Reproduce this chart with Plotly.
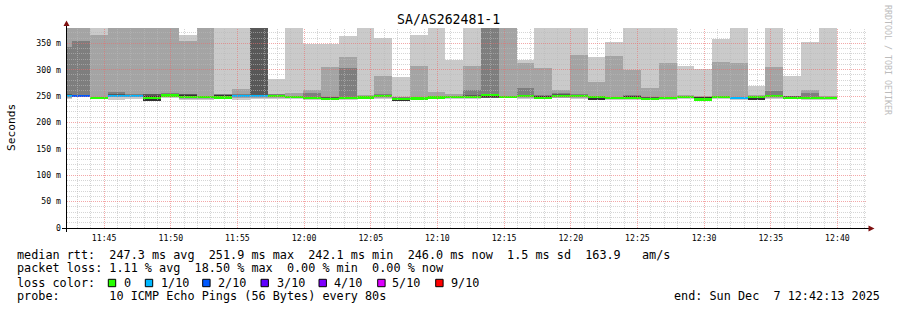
import math
import plotly.graph_objects as go
import pandas as pd

# ---------------- data (80 s steps, values in ms) ----------------
step_centers = pd.date_range("2025-12-07 11:41:56", periods=44, freq="80s")

median_ms = [250, 250, 246.5, 250, 250, 247, 251, 248, 248, 247.5, 250, 250,
             250, 248, 246, 245, 246.5, 247.5, 250, 244.5, 245.5, 247.5, 248,
             248, 252.5, 248, 250, 246.5, 250, 250, 248.5, 246, 246, 245, 246,
             248, 243.5, 248, 246, 248.5, 250, 247, 246.5, 246.5]
loss_tenths = [1, 2, 0, 1, 1, 0, 0, 0, 0, 0, 1, 1,
               0, 0, 0, 0, 0, 0, 0, 0, 0, 0, 0,
               0, 0, 0, 0, 0, 0, 0, 0, 0, 0, 0, 0,
               0, 0, 0, 1, 0, 0, 0, 0, 0]

ping1 = [244, 248.5, 245, 243, 244, 241, 246, 243, 243, 244, 243, 244,
         244, 244, 243, 242, 243, 244, 245, 240, 243, 244, 244,
         244, 246, 247, 245, 244, 246, 245, 242, 243, 243, 242, 243,
         244, 240, 244, 243, 243, 245, 244, 243, 243]
ping2 = [246, 249, 245.5, 249, 248, 241, 249, 245, 245, 246, 247, 247,
         247, 246, 244, 243, 244, 246, 247, 240.5, 244, 246, 246,
         246, 247, 247.5, 247, 245, 247, 247, 242.5, 244, 244, 243, 244,
         246, 240.5, 246, 244, 243, 247, 245, 244, 244]
ping3 = [248, 249.5, 246, 249.5, 249, 241, 250, 246, 246, 247, 249, 249,
         248, 247, 245, 244, 245, 247, 248, 241, 245, 247, 247,
         247, 247, 248, 248, 246, 248, 248, 243, 245, 245, 244, 245,
         247, 241, 247, 245, 243, 248, 246, 245, 245]
ping4 = [249, 250, 246, 250, 250, 241, 250.5, 247, 247, 247, 249.5, 249.5,
         249, 247.5, 245.5, 244.5, 246, 247, 249, 241, 245, 247, 247.5,
         247.5, 247, 248, 249, 246, 249, 249, 243, 245.5, 245.5, 244.5, 245.5,
         247.5, 241.5, 247.5, 245.5, 243, 249, 246.5, 245.5, 245.5]
ping5 = [249.5, 250, 246.5, 250, 250, 241.5, 251, 247, 247, 247, 250, 250,
         249.5, 248, 246, 245, 246, 247, 249.5, 241.5, 245.5, 247.5, 248,
         248, 247.5, 248, 249.5, 246.5, 249.5, 249.5, 243.5, 246, 246, 245, 246,
         248, 242, 248, 246, 243.5, 249.5, 247, 246, 246]
ping6 = [251, 251, 247, 252, 251, 251, 253.5, 252.5, 249, 252, 251, 251,
         251, 249, 247, 246, 247, 248, 251, 246, 246, 248, 249,
         250, 253, 249, 251, 250, 251, 251, 249, 247, 250, 246, 247,
         249, 248, 249, 247, 249, 251, 248, 247, 247]
ping7 = [253, 252, 248, 254, 252, 253, 254, 253, 250, 252.5, 252, 420,
         252, 250, 248, 247, 248, 249, 252, 247, 247, 249, 250,
         252, 254, 250, 252, 251, 253, 252, 250, 248, 251, 247, 248,
         250, 248.5, 250, 248, 250, 252, 249, 248, 248]
ping8 = [343, 355, 249, 257, 253, 254, 255, 254, 251, 253, 253, 420,
         253, 251, 256, 248, 304, 250, 253, 248, 248, 250, 251,
         261, 420, 251, 266, 252, 256, 253, 251, 249, 252, 248, 249,
         251, 249, 251, 249, 251, 260, 250, 255, 249]
ping9 = [420, 420, 365, 420, 420, 420, 420, 354, 420, 253.5, 263, 420,
         254, 256, 261, 306, 325, 252, 288, 249, 307.5, 257.5, 254.5,
         307.5, 420, 420, 313, 303.5, 262, 328, 277, 326.5, 298.5, 266, 313,
         252, 249.5, 315, 313, 252, 305.5, 251, 262, 250]
ping10 = [420, 420, 420, 420, 420, 420, 420, 365, 420, 420, 420, 420,
          283, 420, 348, 348, 363, 420, 361, 287, 365, 420, 317.5,
          420, 420, 420, 317.5, 420, 420, 420, 325, 353, 420, 420, 420,
          307.5, 300.5, 358.5, 420, 268.5, 420, 287.5, 353, 420]

pings = [ping1, ping2, ping3, ping4, ping5, ping6, ping7, ping8, ping9, ping10]

y_ticks = [0, 50, 100, 150, 200, 250, 300, 350]
y_tick_labels = ["0", "50 m", "100 m", "150 m", "200 m", "250 m", "300 m", "350 m"]
x_ticks = pd.date_range("2025-12-07 11:45", "2025-12-07 12:40", freq="5min")
x_tick_labels = [t.strftime("%H:%M") for t in x_ticks]

loss_labels = ["0", "1/10", "2/10", "3/10", "4/10", "5/10", "9/10"]
loss_colors = ["#26ff00", "#00b8ff", "#0059ff", "#5e00ff", "#7e00ff", "#dd00ff", "#ff0000"]
loss_level_color = {0: "#26ff00", 1: "#00b8ff", 2: "#0059ff", 3: "#5e00ff",
                    4: "#7e00ff", 5: "#dd00ff", 9: "#ff0000"}

smoke_grays = ["#cacaca", "#a4a4a4", "#7e7e7e", "#585858", "#323232"]

T0 = pd.Timestamp("2025-12-07 11:42:13")
T1 = pd.Timestamp("2025-12-07 12:42:13")
SPAN_S = 3600.0
Y_MAX = 379

MONO = "DejaVu Sans Mono"

# ---------------- figure ----------------
fig = go.Figure()

for i in range(5):
    lo = pings[i]
    hi = pings[9 - i]
    fig.add_trace(go.Bar(
        x=step_centers, base=lo, y=[h - l for h, l in zip(hi, lo)],
        width=80000, marker=dict(color=smoke_grays[i], line=dict(width=0)),
        hoverinfo="skip"))

half = 2.2
fig.add_trace(go.Bar(
    x=step_centers, base=[m - half for m in median_ms], y=[2 * half] * len(median_ms),
    width=80000,
    marker=dict(color=[loss_level_color[l] for l in loss_tenths], line=dict(width=0)),
    hoverinfo="skip"))

W, H = 897, 310
L, R, T, B = 67, 30, 28, 82
PW, PH = W - L - R, H - T - B


def px(xp):
    return (xp - L) / PW


def py(yp):
    return (T + PH - yp) / PH


def snap_time(t):
    p = L + (t - T0).total_seconds() / SPAN_S * PW
    p = math.floor(p) + 0.5
    return T0 + pd.Timedelta(seconds=(p - L) / PW * SPAN_S)


def snap_val(v):
    p = T + PH - v / Y_MAX * PH
    p = math.floor(p) + 0.5
    return (T + PH - p) * Y_MAX / PH


MINOR = "rgba(185,185,185,0.6)"
MAJOR = "rgba(235,110,110,0.6)"

shapes = []
# grid drawn above the data like rrdtool
minute_lines = pd.date_range("2025-12-07 11:43", "2025-12-07 12:42", freq="1min")
for t in minute_lines:
    major = t.minute % 5 == 0
    ts = snap_time(t)
    shapes.append(dict(type="line", xref="x", yref="paper", x0=ts, x1=ts, y0=0, y1=1,
                       line=dict(color=MAJOR if major else MINOR, width=1, dash="1px,1px"),
                       layer="above"))
for v in range(10, 380, 10):
    major = v % 50 == 0
    vs = snap_val(v)
    shapes.append(dict(type="line", xref="paper", yref="y", x0=0, x1=1, y0=vs, y1=vs,
                       line=dict(color=MAJOR if major else MINOR, width=1, dash="1px,1px"),
                       layer="above"))

# axis lines
shapes.append(dict(type="line", xref="paper", yref="paper", x0=px(62), x1=px(869),
                   y0=py(228.5), y1=py(228.5), line=dict(color="black", width=1), layer="above"))
shapes.append(dict(type="line", xref="paper", yref="paper", x0=px(66.5), x1=px(66.5),
                   y0=py(232), y1=py(24), line=dict(color="black", width=1), layer="above"))
# arrows
shapes.append(dict(type="path", xref="paper", yref="paper",
                   path=f"M {px(66.5)} {py(20.5)} L {px(63.5)} {py(26)} L {px(69.5)} {py(26)} Z",
                   fillcolor="#7f1010", line=dict(width=0), layer="above"))
shapes.append(dict(type="path", xref="paper", yref="paper",
                   path=f"M {px(874.5)} {py(228.5)} L {px(868.5)} {py(225.5)} L {px(868.5)} {py(231.5)} Z",
                   fillcolor="#7f1010", line=dict(width=0), layer="above"))

# loss color boxes
box_x = [108.3, 145.3, 202.7, 261, 319, 377.7, 435.7]
label_x = [123.3, 160, 217.3, 276, 333.3, 391.7, 450]
for bx, col in zip(box_x, loss_colors):
    shapes.append(dict(type="rect", xref="paper", yref="paper",
                       x0=px(bx), x1=px(bx + 7.4), y0=py(286.7), y1=py(279.3),
                       fillcolor=col, line=dict(color="black", width=1)))

annotations = []


def txt(s, x, y, size=11.8, xanchor="left", color="black", angle=0):
    annotations.append(dict(text=s, x=px(x), y=py(y), xref="paper", yref="paper",
                            xanchor=xanchor, yanchor="middle", showarrow=False,
                            textangle=angle, borderpad=0,
                            font=dict(family=MONO, size=size, color=color)))


txt("SA/AS262481-1", 448, 20, size=13.2, xanchor="center")
txt("Seconds", 11, 127, size=11.2, xanchor="center", angle=-90)
txt("RRDTOOL / TOBI OETIKER", 888, 60, size=8.3, xanchor="center", color="#bcbcbc", angle=90)

txt("median rtt:  247.3 ms avg  251.9 ms max  242.1 ms min  246.0 ms now  1.5 ms sd  163.9   am/s", 15.5, 254.5)
txt("packet loss: 1.11 % avg  18.50 % max  0.00 % min  0.00 % now", 15.5, 268.2)
txt("loss color:", 15.5, 282.5)
for lx, lab in zip(label_x, loss_labels):
    txt(lab, lx - 0.5, 282.5)
txt("probe:       10 ICMP Echo Pings (56 Bytes) every 80s", 15.5, 296)
txt("end: Sun Dec  7 12:42:13 2025", 881, 296, xanchor="right")

fig.update_layout(
    width=W, height=H, margin=dict(l=L, r=R, t=T, b=B),
    paper_bgcolor="white", plot_bgcolor="white",
    barmode="overlay", bargap=0, showlegend=False,
    shapes=shapes, annotations=annotations,
    font=dict(family=MONO, color="black"),
    xaxis=dict(type="date", range=[T0, T1], showgrid=False, zeroline=False, showline=False,
               tickmode="array", tickvals=list(x_ticks), ticktext=x_tick_labels,
               ticks="", ticklabelstandoff=4,
               tickfont=dict(family=MONO, size=8.2, color="black")),
    yaxis=dict(range=[0, Y_MAX], showgrid=False, zeroline=False, showline=False,
               tickmode="array", tickvals=y_ticks, ticktext=y_tick_labels,
               ticks="", ticklabelstandoff=5,
               tickfont=dict(family=MONO, size=8.2, color="black")),
)

fig.write_html("out.html")
